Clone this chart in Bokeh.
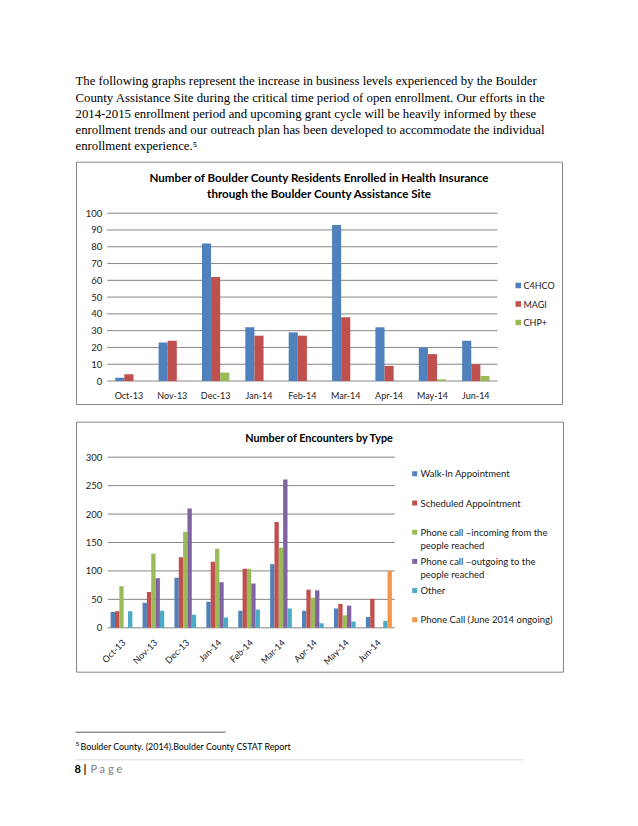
import math
from bokeh.plotting import figure
from bokeh.models import Range1d, ColumnDataSource
from bokeh.layouts import column
from bokeh.embed import file_html
from bokeh.resources import INLINE
from bokeh.core.properties import value
from bokeh.transform import dodge

# ---------------- data ----------------
months = ["Oct-13", "Nov-13", "Dec-13", "Jan-14", "Feb-14", "Mar-14", "Apr-14", "May-14", "Jun-14"]

enroll_names = ["C4HCO", "MAGI", "CHP+"]
c4hco = [2, 23, 82, 32, 29, 93, 32, 20, 24]
magi = [4, 24, 62, 27, 27, 38, 9, 16, 10]
chp = [0, 0, 5, 0, 0, 0, 0, 1, 3]

enc_names = [
    ["Walk-In Appointment"],
    ["Scheduled Appointment"],
    ["Phone call \u2013incoming from the", "people reached"],
    ["Phone call \u2013outgoing to the", "people reached"],
    ["Other"],
    ["Phone Call (June 2014 ongoing)"],
]
walk_in = [28, 44, 88, 46, 30, 112, 30, 34, 19]
scheduled = [29, 63, 124, 116, 104, 186, 67, 42, 51]
phone_in = [73, 130, 169, 139, 104, 141, 53, 22, 0]
phone_out = [0, 87, 210, 80, 78, 261, 66, 39, 0]
other = [29, 30, 23, 18, 32, 34, 8, 11, 12]
phone_june = [0, 0, 0, 0, 0, 0, 0, 0, 100]

enroll_ticks = list(range(0, 101, 10))
enc_ticks = list(range(0, 301, 50))

title1 = ["Number of Boulder County Residents Enrolled in Health Insurance",
          "through the Boulder County Assistance Site"]
title2 = "Number of Encounters by Type"

body = [
    "The following graphs represent the increase in business levels experienced by the Boulder",
    "County Assistance Site during the critical time period of open enrollment.  Our efforts in the",
    "2014-2015 enrollment period and upcoming grant cycle will be heavily informed by these",
    "enrollment trends and our outreach plan has been developed to accommodate the individual",
    "enrollment experience.\u2075",
]
footnote = "Boulder County. (2014).Boulder County CSTAT Report"

# ---------------- style ----------------
W = 638
FONT = "Lato"
GRID = "#868686"
TXT = "#1a1a1a"
C_BLUE, C_RED, C_GREEN = "#4F81BD", "#C0504D", "#9BBB59"
C_PURPLE, C_TEAL, C_ORANGE = "#8064A2", "#4BACC6", "#F79646"

n = len(months)
xi = [i + 0.5 for i in range(n)]


def page_fig(height):
    p = figure(width=W, height=height, x_range=Range1d(0, W), y_range=Range1d(height, 0),
               output_backend="svg", toolbar_location=None,
               x_axis_location=None, y_axis_location=None, min_border=0)
    p.grid.visible = False
    p.outline_line_color = None
    return p


def chart_fig(H, ymax, area):
    """area = plot-area edges in canvas pixels (left, right, top, bottom)."""
    l, r, t, b = area
    u = (r - l) / n
    v = (b - t) / ymax
    p = figure(width=W, height=H,
               x_range=Range1d(-l / u, n + (W - r) / u),
               y_range=Range1d(-(H - b) / v, ymax + t / v),
               output_backend="svg", toolbar_location=None,
               x_axis_location=None, y_axis_location=None, min_border=0)
    p.grid.visible = False
    p.outline_line_color = None
    p.extra_x_ranges = {"px": Range1d(0, W)}
    p.extra_y_ranges = {"py": Range1d(H, 0)}
    return p


def ptext(p, x, y, text, size="9px", bold=False, align="left", color=TXT, font=FONT, px=True):
    kw = dict(x_range_name="px", y_range_name="py") if px else {}
    p.text(x=[x], y=[y], text=[text], text_font=value(font), text_font_size=size,
           text_font_style="bold" if bold else "normal", text_align=align,
           text_baseline="middle", text_color=color, **kw)


def pbox(p, l, r, t, b, fill=None, line=None):
    p.quad(left=[l], right=[r], top=[t], bottom=[b],
           fill_color=fill if fill else "white", fill_alpha=1 if fill else 0,
           line_color=line if line else None, line_width=1,
           x_range_name="px", y_range_name="py")


def axes(p, ticks, ystand):
    p.segment(x0=[0] * len(ticks), x1=[n] * len(ticks), y0=ticks, y1=ticks,
              line_color=GRID, line_width=1)
    p.text(x=[0] * len(ticks), y=ticks, text=[str(t) for t in ticks], x_offset=-ystand,
           text_font=value(FONT), text_font_size="9.5px", text_align="right",
           text_baseline="middle", text_color=TXT)


# ---------------- top text ----------------
H1 = 158
f1 = page_fig(H1)
f1.text(x=[75] * len(body), y=[80, 97, 113, 129, 145], text=body,
        text_font=value("Liberation Serif"), text_font_size="12.8px",
        text_baseline="middle", text_align="left", text_color="black")

# ---------------- chart 1 ----------------
H2 = 256
f2 = chart_fig(H2, 100, (106.7, 497, 54.7, 222.5))
pbox(f2, 76, 562, 3.7, 246, line=GRID)
axes(f2, enroll_ticks, 5)
src1 = ColumnDataSource(dict(xi=xi, month=months, c4hco=c4hco, magi=magi, chp=chp))
bw1 = 0.21
for i, (col, color) in enumerate([("c4hco", C_BLUE), ("magi", C_RED), ("chp", C_GREEN)]):
    f2.vbar(x=dodge("xi", (i - 1) * bw1), top=col, width=bw1,
            source=src1, fill_color=color, line_color=None)
f2.text(x="xi", y=0, text="month", source=src1, y_offset=14.5,
        text_font=value(FONT), text_font_size="9px", text_align="center",
        text_baseline="middle", text_color=TXT)
ptext(f2, 319, 18.7, title1[0], size="11.6px", bold=True, align="center", color="black")
ptext(f2, 319, 35.3, title1[1], size="11.6px", bold=True, align="center", color="black")
for i, (name, color) in enumerate(zip(enroll_names, [C_BLUE, C_RED, C_GREEN])):
    yc = 127 + i * 18.5
    pbox(f2, 515, 520.5, yc - 2.75, yc + 2.75, fill=color)
    ptext(f2, 523, yc, name)

# ---------------- chart 2 ----------------
H3 = 266
f3 = chart_fig(H3, 300, (107.2, 394.3, 42.7, 213.3))
pbox(f3, 76, 563, 7.7, 257.7, line=GRID)
axes(f3, enc_ticks, 5.5)
src2 = ColumnDataSource(dict(xi=xi, month=months, walk_in=walk_in, scheduled=scheduled,
                             phone_in=phone_in, phone_out=phone_out, other=other,
                             phone_june=phone_june))
bw2 = 0.136
cols2 = [("walk_in", C_BLUE), ("scheduled", C_RED), ("phone_in", C_GREEN),
         ("phone_out", C_PURPLE), ("other", C_TEAL), ("phone_june", C_ORANGE)]
for i, (col, color) in enumerate(cols2):
    f3.vbar(x=dodge("xi", (i - 2.5) * bw2), top=col, width=bw2,
            source=src2, fill_color=color, line_color=None)
f3.text(x="xi", y=0, text="month", source=src2, x_offset=0, y_offset=13, angle=math.pi / 4,
        text_font=value(FONT), text_font_size="9px", text_align="right",
        text_baseline="middle", text_color=TXT)
ptext(f3, 319, 22.7, title2, size="10.8px", bold=True, align="center", color="black")
for i, (names, (_, color)) in enumerate(zip(enc_names, cols2)):
    yc = 59.3 + i * 29.2
    pbox(f3, 411.7, 416.7, yc - 2.5, yc + 2.5, fill=color)
    for j, nm in enumerate(names):
        ptext(f3, 420, yc + j * 13.5, nm, size="9.5px")

# ---------------- footer ----------------
H4 = 138
f4 = page_fig(H4)
f4.line(x=[75, 225], y=[51.7, 51.7], line_color="#333333", line_width=0.8)
f4.line(x=[75, 523], y=[79.3, 79.3], line_color="#d9d9d9", line_width=1)
ptext(f4, 75, 63, "5", size="6.5px", color="black", px=False)
ptext(f4, 80, 66, footnote, size="8.9px", color="black", px=False)
ptext(f4, 74, 87.7, "8 |", size="11px", bold=True, color="black", px=False)
ptext(f4, 90, 87.7, "P a g e", size="11px", color="#7f7f7f", px=False)

layout = column(f1, f2, f3, f4, spacing=0)
open("out.html", "w").write(file_html(layout, INLINE))
